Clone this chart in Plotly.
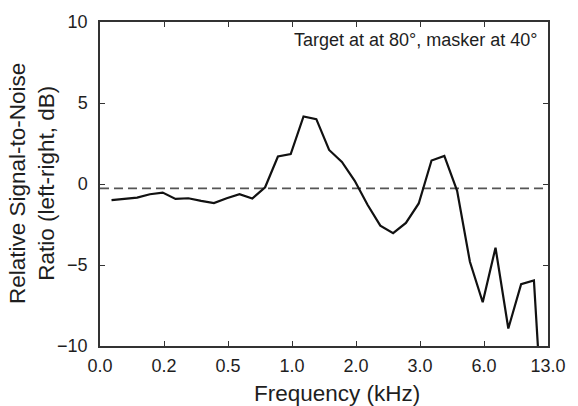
import plotly.graph_objects as go

# channel positions on the equally spaced frequency axis (tick index units)
x_pos = [0.18, 0.38, 0.58, 0.78, 0.98, 1.18, 1.38, 1.58, 1.78, 1.98,
         2.18, 2.38, 2.58, 2.78, 2.98, 3.18, 3.38, 3.58, 3.78, 3.98,
         4.18, 4.38, 4.58, 4.78, 4.98, 5.18, 5.38, 5.58, 5.78, 5.98,
         6.18, 6.38, 6.58, 6.78, 6.98]
snr_db = [-1.0, -0.92, -0.84, -0.63, -0.53, -0.92, -0.88, -1.04, -1.18, -0.88,
          -0.63, -0.90, -0.2, 1.7, 1.85, 4.17, 4.0, 2.1, 1.36, 0.2,
          -1.28, -2.57, -3.03, -2.4, -1.2, 1.45, 1.73, -0.42, -4.8, -7.3,
          -3.93, -8.92, -6.18, -5.96, -19.0]

reference_level = -0.27
tick_positions = [0, 1, 2, 3, 4, 5, 6, 7]
tick_labels = ["0.0", "0.2", "0.5", "1.0", "2.0", "3.0", "6.0", "13.0"]
y_ticks = [-10, -5, 0, 5, 10]

FONT = "Liberation Sans, Arial, sans-serif"
TXT = "#1e1e1e"
AX = "#333333"

fig = go.Figure()
fig.add_trace(go.Scatter(
    x=[tick_positions[0], tick_positions[-1]],
    y=[reference_level, reference_level],
    mode="lines", line=dict(color="#555555", width=1.6, dash="9px,5px"),
    showlegend=False, hoverinfo="skip"))
fig.add_trace(go.Scatter(
    x=x_pos, y=snr_db, mode="lines",
    line=dict(color="#111111", width=2.2),
    showlegend=False))

fig.add_annotation(
    text="Target at at 80°, masker at 40°",
    xref="paper", yref="paper", x=1, y=1, xanchor="right", yanchor="middle",
    xshift=-8, yshift=-18, showarrow=False,
    font=dict(family=FONT, size=18, color=TXT))

fig.add_annotation(
    text="Frequency (kHz)",
    xref="paper", yref="paper", x=0.53, y=0, xanchor="center", yanchor="middle",
    yshift=-47, showarrow=False,
    font=dict(family=FONT, size=22.5, color=TXT))

fig.add_annotation(
    text="Relative Signal-to-Noise<br>Ratio (left-right, dB)",
    xref="paper", yref="paper", x=0, y=0.5, xanchor="center", yanchor="middle",
    xshift=-68, textangle=-90, showarrow=False,
    font=dict(family=FONT, size=22.5, color=TXT))

fig.update_layout(
    width=578, height=406,
    margin=dict(l=100, r=21, t=18, b=60),
    paper_bgcolor="white", plot_bgcolor="white",
    font=dict(family=FONT, size=18, color=TXT),
)
fig.update_xaxes(
    range=[0, 7], tickmode="array", tickvals=tick_positions, ticktext=tick_labels,
    ticks="inside", ticklen=5, tickwidth=1.2, tickcolor=AX,
    showline=True, linecolor=AX, linewidth=1.5, mirror="ticks",
    showgrid=False, zeroline=False, ticklabelstandoff=3,
    tickfont=dict(family=FONT, size=18, color=TXT),
)
fig.update_yaxes(
    range=[-10, 10], tickmode="array", tickvals=y_ticks,
    ticks="inside", ticklen=5, tickwidth=1.2, tickcolor=AX,
    showline=True, linecolor=AX, linewidth=1.5, mirror="ticks",
    showgrid=False, zeroline=False, ticklabelstandoff=7,
    tickfont=dict(family=FONT, size=18, color=TXT),
)

# remove the default page margin so the 578x406 figure fills the window exactly
fig.write_html("out.html",
               config={"displayModeBar": False},
               post_script="document.body.style.margin='0';document.body.style.overflow='hidden';")
